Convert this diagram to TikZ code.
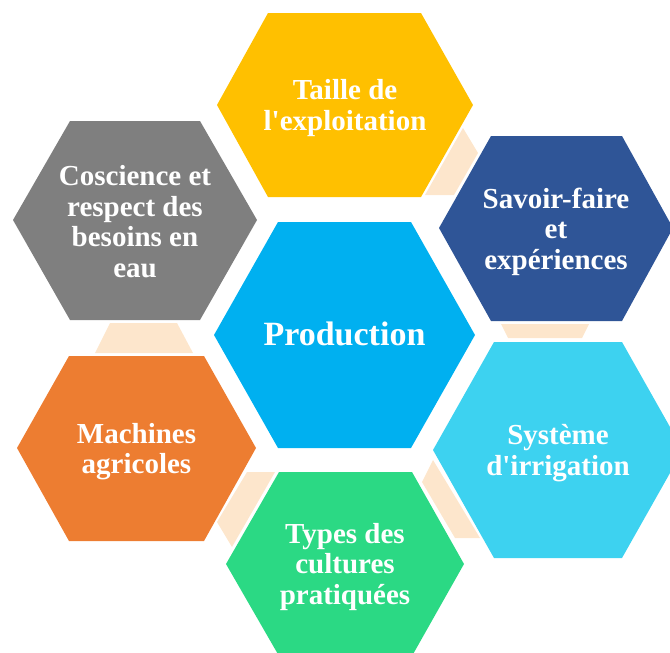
\documentclass[tikz,border=0pt]{standalone}
\usepackage{fontspec}
\setmainfont{Liberation Serif}
\usepackage{tikz}

\definecolor{prodblue}{HTML}{00B0F0}
\definecolor{taillegold}{HTML}{FFC000}
\definecolor{consgray}{HTML}{7F7F7F}
\definecolor{savoirblue}{HTML}{2F5597}
\definecolor{irrigblue}{HTML}{3DD2F0}
\definecolor{cultgreen}{HTML}{2BD984}
\definecolor{machorange}{HTML}{ED7D31}
\definecolor{linkpeach}{HTML}{FDE6CC}

\tikzset{
  hexlabel/.style={text=white, align=center, inner sep=0pt, yshift=-3pt,
    font=\fontsize{29}{30.5}\selectfont\bfseries},
  centrelabel/.style={hexlabel, yshift=4pt, font=\fontsize{34}{36}\selectfont\bfseries},
  link/.style={fill=linkpeach}
}

\begin{document}
\begin{tikzpicture}[x=1pt,y=-1pt]

    \useasboundingbox (0,0) rectangle (670,653);
    \clip (0,0) rectangle (670,653);

    % peach links between the outer cells
    \fill[link] (463,128) -- (478,153) -- (454,195) -- (425,195) -- cycle;
    \fill[link] (501,324) -- (589,324) -- (582,338) -- (508,338) -- cycle;
    \fill[link] (433,460) -- (480,538) -- (455,538) -- (422,482) -- cycle;
    \fill[link] (247,472) -- (275,472) -- (232,547) -- (217,522) -- cycle;
    \fill[link] (110,323) -- (177,323) -- (193,353) -- (95,353) -- cycle;

    % centre cell
    \fill[prodblue] (214,335) -- (278,222) -- (411,222) -- (475,335) -- (411,448) -- (278,448) -- cycle;
    \node[centrelabel] (production) at (344.5,335) {Production};

    % outer cells
    \fill[taillegold] (217,105) -- (268,13) -- (421,13) -- (473,105) -- (421,197) -- (268,197) -- cycle;
    \node[hexlabel] (taille) at (345,105) {Taille de\\l\textquotesingle exploitation};

    \fill[savoirblue] (439,228) -- (491,136) -- (622,136) -- (673,228) -- (622,321) -- (491,321) -- cycle;
    \node[hexlabel] (savoir) at (556,228.5) {Savoir-faire\\et\\expériences};

    \fill[irrigblue] (433,450) -- (494,342) -- (622,342) -- (683,450) -- (622,558) -- (494,558) -- cycle;
    \node[hexlabel] (irrigation) at (558,450) {Système\\d\textquotesingle irrigation};

    \fill[cultgreen] (226,564) -- (279,472) -- (412,472) -- (464,564) -- (412,656) -- (279,656) -- cycle;
    \node[hexlabel] (cultures) at (345,564) {Types des\\cultures\\pratiquées};

    \fill[machorange] (17,448) -- (69,356) -- (204,356) -- (256,448) -- (204,541) -- (69,541) -- cycle;
    \node[hexlabel] (machines) at (136.5,448.5) {Machines\\agricoles};

    \fill[consgray] (13,220) -- (70,121) -- (200,121) -- (257,220) -- (200,320) -- (70,320) -- cycle;
    \node[hexlabel, yshift=2pt] (conscience) at (135,220.5) {Coscience et\\respect des\\besoins en\\eau};

\end{tikzpicture}
\end{document}
